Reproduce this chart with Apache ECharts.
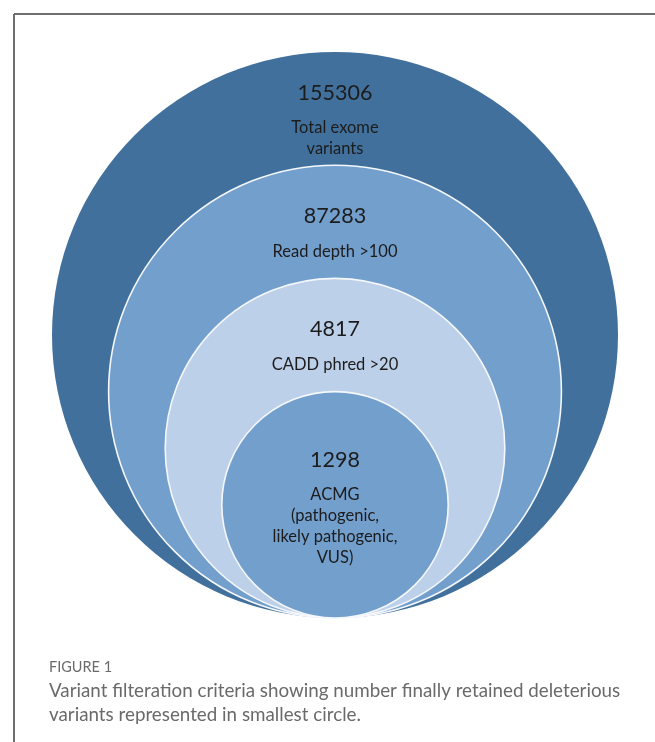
<!DOCTYPE html>
<html>
<head>
<meta charset="utf-8">
<script src="https://cdn.jsdelivr.net/npm/echarts@6/dist/echarts.min.js"></script>
<style>
  html, body { margin: 0; padding: 0; background: #fff; }
  #chart { width: 655px; height: 742px; }
</style>
</head>
<body>
<div id="chart"></div>
<script>
// ---- data ----
const steps = ['Total exome\nvariants', 'Read depth >100', 'CADD phred >20', 'ACMG\n(pathogenic,\nlikely pathogenic,\nVUS)'];
const counts = [155306, 87283, 4817, 1298];
const stepIndex = [0, 1, 2, 3];
const figureLabel = 'FIGURE 1';
const captionLines = [
  'Variant filteration criteria showing number finally retained deleterious',
  'variants represented in smallest circle.'
];

// ---- styles ----
const fills = ['#41709C', '#739FCD', '#BDD0E9', '#739FCD'];
const fontFamily = 'Lato, "Open Sans", sans-serif';
const COUNT_LH = 49, DESC_LH = 21;

const n = steps.length;
const chart = echarts.init(document.getElementById('chart'));

const data = stepIndex.map(i => [i, counts[i]]);

chart.setOption({
  animation: false,
  grid: { left: 52, top: 52, width: 566, height: 566 },
  xAxis: { type: 'value', min: -(n + 1), max: n + 1, show: false },
  yAxis: { type: 'value', min: 0, max: 2 * (n + 1), show: false },
  series: [{
    type: 'custom',
    coordinateSystem: 'cartesian2d',
    data: data,
    renderItem: function (params, api) {
      const i = api.value(0);
      const count = api.value(1);
      const rUnits = n + 1 - i;
      const c = api.coord([0, rUnits]);
      const r = api.size([0, rUnits])[1];
      const top = c[1] - r;
      const inner = i === n - 1;
      // middle of the visible ring (or centre of innermost circle)
      let mid;
      if (inner) {
        mid = c[1] + 4;
      } else {
        const rNext = api.size([0, rUnits - 1])[1];
        const nextTop = c[1] + r - 2 * rNext;
        mid = (top + nextTop) / 2 + 12;
      }
      const lines = steps[i].split('\n');
      const span = (COUNT_LH / 2 + DESC_LH / 2) + DESC_LH * (lines.length - 1);
      const countCenter = mid - span / 2;
      const text = '{n|' + count + '}\n' + lines.map(s => '{d|' + s + '}').join('\n');
      return {
        type: 'group',
        children: [
          {
            type: 'circle',
            shape: { cx: c[0], cy: c[1], r: r },
            style: { fill: fills[i], stroke: i === 0 ? null : '#F4F7FB', lineWidth: i === 0 ? 0 : 1.6 }
          },
          {
            type: 'text',
            style: {
              text: text,
              x: c[0],
              y: countCenter - COUNT_LH / 2,
              align: 'center',
              verticalAlign: 'top',
              fill: '#1c1c1c',
              fontFamily: fontFamily,
              rich: {
                n: { fontSize: 21.5, lineHeight: COUNT_LH, fontFamily: fontFamily, fill: '#1c1c1c' },
                d: { fontSize: 16.5, lineHeight: DESC_LH, fontFamily: fontFamily, fill: '#1c1c1c' }
              }
            }
          }
        ]
      };
    }
  }],
  graphic: [
    { type: 'line', shape: { x1: 14, y1: 14, x2: 655, y2: 14 }, style: { stroke: '#6e6e6e', lineWidth: 2 } },
    { type: 'line', shape: { x1: 14, y1: 14, x2: 14, y2: 742 }, style: { stroke: '#6e6e6e', lineWidth: 2 } },
    { type: 'text', x: 49, y: 667, style: { text: figureLabel, fontSize: 14.5, fontFamily: fontFamily, fill: '#6a6a6a', verticalAlign: 'middle' } },
    { type: 'text', x: 49, y: 691, style: { text: captionLines[0], fontSize: 18.8, fontFamily: fontFamily, fill: '#6a6a6a', verticalAlign: 'middle' } },
    { type: 'text', x: 49, y: 715, style: { text: captionLines[1], fontSize: 18.8, fontFamily: fontFamily, fill: '#6a6a6a', verticalAlign: 'middle' } }
  ]
});
</script>
</body>
</html>
